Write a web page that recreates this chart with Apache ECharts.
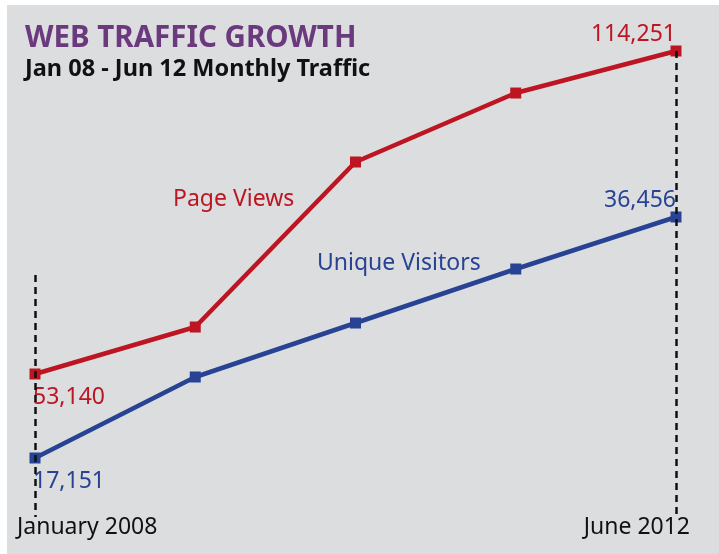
<!DOCTYPE html>
<html>
<head>
<meta charset="utf-8">
<script src="https://cdn.jsdelivr.net/npm/echarts@6/dist/echarts.min.js"></script>
<style>
html,body{margin:0;padding:0;background:#ffffff;}
#chart{position:absolute;left:7px;top:5px;width:712px;height:549px;background:#dcdddf;}
</style>
</head>
<body>
<div id="chart"></div>
<script>
var categories = ['January 2008', 'Q2', 'Q3', 'Q4', 'June 2012'];
var pageViews = [53140, 62030, 93250, 106300, 114251];
var uniqueVisitors = [17151, 23640, 27965, 32290, 36456];
var startLabel = 'January 2008';
var endLabel = 'June 2012';

var RED = '#bd1521';
var BLUE = '#284393';
var FONT = 'Noto Sans';

function fmt(v){ return v.toLocaleString('en-US'); }

function buildData(arr){
  return arr.map(function(v, i){
    var item = {value: v};
    if (i === 0) {
      item.label = {show: true, position: 'bottom', align: 'left', offset: [-2, 1], formatter: function(p){return fmt(p.value);}};
    } else if (i === arr.length - 1) {
      item.label = {show: true, position: 'top', align: 'right', offset: [0, 5], formatter: function(p){return fmt(p.value);}};
    }
    return item;
  });
}

var chart = echarts.init(document.getElementById('chart'));
chart.setOption({
  backgroundColor: '#dcdddf',
  animation: false,
  title: {
    text: 'WEB TRAFFIC GROWTH',
    subtext: 'Jan 08 - Jun 12 Monthly Traffic',
    left: 13, top: 14,
    itemGap: 3,
    textStyle: {fontFamily: FONT, fontSize: 29.5, fontWeight: 'bold', color: '#6b3a7e'},
    subtextStyle: {fontFamily: FONT, fontSize: 23.5, fontWeight: 'bold', color: '#111111'}
  },
  grid: {left: 28, right: 43, top: 46, bottom: 37},
  xAxis: {
    type: 'category', data: categories, boundaryGap: false,
    axisLine: {show: false}, axisTick: {show: false}, axisLabel: {show: false}, splitLine: {show: false}
  },
  yAxis: [
    {type: 'value', min: 26085, max: 114251, show: false, splitLine: {show: false}},
    {type: 'value', min: 12425, max: 49753, show: false, splitLine: {show: false}}
  ],
  graphic: [
    {type: 'text', left: 10, top: 511, style: {text: startLabel, fontFamily: FONT, fontSize: 23, fill: '#111111'}},
    {type: 'text', right: 29, top: 511, style: {text: endLabel, fontFamily: FONT, fontSize: 23, fill: '#111111'}},
    {type: 'text', left: 166, top: 183, style: {text: 'Page Views', fontFamily: FONT, fontSize: 23, fill: RED}},
    {type: 'text', left: 310, top: 247, style: {text: 'Unique Visitors', fontFamily: FONT, fontSize: 23, fill: BLUE}}
  ],
  series: [
    {
      name: 'Page Views', type: 'line', yAxisIndex: 0,
      data: buildData(pageViews),
      symbol: 'rect', symbolSize: 11,
      lineStyle: {color: RED, width: 4.5},
      itemStyle: {color: RED},
      label: {color: RED, fontFamily: FONT, fontSize: 23},
      z: 3,
      markLine: {
        silent: true, symbol: 'none', label: {show: false},
        lineStyle: {color: '#111111', width: 2.5, type: [7, 5]},
        data: [
          [{coord: [0, 71871]}, {coord: [0, 26085]}],
          [{coord: [4, 114251]}, {coord: [4, 26085]}]
        ]
      }
    },
    {
      name: 'Unique Visitors', type: 'line', yAxisIndex: 1,
      data: buildData(uniqueVisitors),
      symbol: 'rect', symbolSize: 11,
      lineStyle: {color: BLUE, width: 4.5},
      itemStyle: {color: BLUE},
      label: {color: BLUE, fontFamily: FONT, fontSize: 23},
      z: 3
    }
  ]
});
</script>
</body>
</html>
